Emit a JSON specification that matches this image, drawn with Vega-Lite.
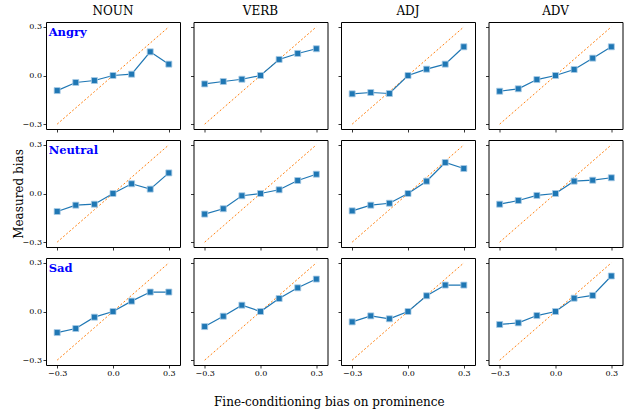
{
"$schema":"https://vega.github.io/schema/vega-lite/v6.json",
"padding":{"left":11,"top":4,"right":5,"bottom":5},
"background":"white",
"datasets":{"d":[
{"e":"Angry","p":"NOUN","x":-0.3,"y":-0.093},{"e":"Angry","p":"NOUN","x":-0.2,"y":-0.043},{"e":"Angry","p":"NOUN","x":-0.1,"y":-0.031},{"e":"Angry","p":"NOUN","x":0,"y":0},{"e":"Angry","p":"NOUN","x":0.1,"y":0.008},{"e":"Angry","p":"NOUN","x":0.2,"y":0.146},{"e":"Angry","p":"NOUN","x":0.3,"y":0.070},
{"e":"Angry","p":"VERB","x":-0.3,"y":-0.052},{"e":"Angry","p":"VERB","x":-0.2,"y":-0.037},{"e":"Angry","p":"VERB","x":-0.1,"y":-0.023},{"e":"Angry","p":"VERB","x":0,"y":0},{"e":"Angry","p":"VERB","x":0.1,"y":0.099},{"e":"Angry","p":"VERB","x":0.2,"y":0.136},{"e":"Angry","p":"VERB","x":0.3,"y":0.165},
{"e":"Angry","p":"ADJ","x":-0.3,"y":-0.113},{"e":"Angry","p":"ADJ","x":-0.2,"y":-0.105},{"e":"Angry","p":"ADJ","x":-0.1,"y":-0.111},{"e":"Angry","p":"ADJ","x":0,"y":0},{"e":"Angry","p":"ADJ","x":0.1,"y":0.039},{"e":"Angry","p":"ADJ","x":0.2,"y":0.070},{"e":"Angry","p":"ADJ","x":0.3,"y":0.177},
{"e":"Angry","p":"ADV","x":-0.3,"y":-0.097},{"e":"Angry","p":"ADV","x":-0.2,"y":-0.082},{"e":"Angry","p":"ADV","x":-0.1,"y":-0.025},{"e":"Angry","p":"ADV","x":0,"y":0},{"e":"Angry","p":"ADV","x":0.1,"y":0.037},{"e":"Angry","p":"ADV","x":0.2,"y":0.107},{"e":"Angry","p":"ADV","x":0.3,"y":0.177},
{"e":"Neutral","p":"NOUN","x":-0.3,"y":-0.111},{"e":"Neutral","p":"NOUN","x":-0.2,"y":-0.072},{"e":"Neutral","p":"NOUN","x":-0.1,"y":-0.066},{"e":"Neutral","p":"NOUN","x":0,"y":0},{"e":"Neutral","p":"NOUN","x":0.1,"y":0.060},{"e":"Neutral","p":"NOUN","x":0.2,"y":0.027},{"e":"Neutral","p":"NOUN","x":0.3,"y":0.127},
{"e":"Neutral","p":"VERB","x":-0.3,"y":-0.127},{"e":"Neutral","p":"VERB","x":-0.2,"y":-0.094},{"e":"Neutral","p":"VERB","x":-0.1,"y":-0.014},{"e":"Neutral","p":"VERB","x":0,"y":0},{"e":"Neutral","p":"VERB","x":0.1,"y":0.023},{"e":"Neutral","p":"VERB","x":0.2,"y":0.080},{"e":"Neutral","p":"VERB","x":0.3,"y":0.119},
{"e":"Neutral","p":"ADJ","x":-0.3,"y":-0.107},{"e":"Neutral","p":"ADJ","x":-0.2,"y":-0.072},{"e":"Neutral","p":"ADJ","x":-0.1,"y":-0.060},{"e":"Neutral","p":"ADJ","x":0,"y":0},{"e":"Neutral","p":"ADJ","x":0.1,"y":0.076},{"e":"Neutral","p":"ADJ","x":0.2,"y":0.191},{"e":"Neutral","p":"ADJ","x":0.3,"y":0.154},
{"e":"Neutral","p":"ADV","x":-0.3,"y":-0.066},{"e":"Neutral","p":"ADV","x":-0.2,"y":-0.043},{"e":"Neutral","p":"ADV","x":-0.1,"y":-0.012},{"e":"Neutral","p":"ADV","x":0,"y":0},{"e":"Neutral","p":"ADV","x":0.1,"y":0.076},{"e":"Neutral","p":"ADV","x":0.2,"y":0.082},{"e":"Neutral","p":"ADV","x":0.3,"y":0.097},
{"e":"Sad","p":"NOUN","x":-0.3,"y":-0.130},{"e":"Sad","p":"NOUN","x":-0.2,"y":-0.105},{"e":"Sad","p":"NOUN","x":-0.1,"y":-0.035},{"e":"Sad","p":"NOUN","x":0,"y":0},{"e":"Sad","p":"NOUN","x":0.1,"y":0.064},{"e":"Sad","p":"NOUN","x":0.2,"y":0.120},{"e":"Sad","p":"NOUN","x":0.3,"y":0.120},
{"e":"Sad","p":"VERB","x":-0.3,"y":-0.093},{"e":"Sad","p":"VERB","x":-0.2,"y":-0.029},{"e":"Sad","p":"VERB","x":-0.1,"y":0.039},{"e":"Sad","p":"VERB","x":0,"y":0},{"e":"Sad","p":"VERB","x":0.1,"y":0.080},{"e":"Sad","p":"VERB","x":0.2,"y":0.146},{"e":"Sad","p":"VERB","x":0.3,"y":0.200},
{"e":"Sad","p":"ADJ","x":-0.3,"y":-0.064},{"e":"Sad","p":"ADJ","x":-0.2,"y":-0.027},{"e":"Sad","p":"ADJ","x":-0.1,"y":-0.045},{"e":"Sad","p":"ADJ","x":0,"y":0},{"e":"Sad","p":"ADJ","x":0.1,"y":0.097},{"e":"Sad","p":"ADJ","x":0.2,"y":0.163},{"e":"Sad","p":"ADJ","x":0.3,"y":0.163},
{"e":"Sad","p":"ADV","x":-0.3,"y":-0.080},{"e":"Sad","p":"ADV","x":-0.2,"y":-0.070},{"e":"Sad","p":"ADV","x":-0.1,"y":-0.025},{"e":"Sad","p":"ADV","x":0,"y":0},{"e":"Sad","p":"ADV","x":0.1,"y":0.082},{"e":"Sad","p":"ADV","x":0.2,"y":0.099},{"e":"Sad","p":"ADV","x":0.3,"y":0.219}
]},
"title":{"text":"Fine-conditioning bias on prominence","orient":"bottom","anchor":"middle","offset":19,"dx":12,"fontSize":12,"font":"DejaVu Serif","fontWeight":"normal","color":"#000"},
"columns":4,
"bounds":"flush",
"spacing":{"row":11,"column":13.5},
"concat":[
{"width":134,"height":107,"title":"NOUN","data":{"name":"d"},"transform":[{"filter":"datum.e=='Angry'&&datum.p=='NOUN'"}],
 "encoding":{"x":{"field":"x","type":"quantitative","title":null,"scale":{"domain":[-0.36,0.36],"nice":false,"zero":false},"axis":{"values":[-0.3,0,0.3],"format":".1f","labels":false}},
  "y":{"field":"y","type":"quantitative","title":null,"scale":{"domain":[-0.33,0.33],"nice":false,"zero":false},"axis":{"values":[-0.3,0,0.3],"format":".1f"}}},
 "layer":[
  {"mark":{"type":"line","color":"#ff7f0e","strokeWidth":1,"strokeDash":[2,2]},"encoding":{"y":{"field":"x","type":"quantitative","title":null}}},
  {"mark":{"type":"line","color":"#1f77b4","strokeWidth":1.2}},
  {"mark":{"type":"point","shape":"square","filled":true,"size":36,"fill":"#1f77b4","stroke":"#a9cce6","strokeWidth":0.8,"opacity":1}},
  {"transform":[{"filter":"datum.x==-0.3"}],"mark":{"type":"text","font":"DejaVu Serif","fontWeight":"bold","fontSize":11.5,"color":"#0000ff","align":"left","baseline":"top","dx":-8.5,"dy":0},"encoding":{"y":{"datum":0.3,"type":"quantitative","title":null},"text":{"field":"e"}}}
 ]},
{"width":134,"height":107,"title":"VERB","data":{"name":"d"},"transform":[{"filter":"datum.e=='Angry'&&datum.p=='VERB'"}],
 "encoding":{"x":{"field":"x","type":"quantitative","title":null,"scale":{"domain":[-0.36,0.36],"nice":false,"zero":false},"axis":{"values":[-0.3,0,0.3],"format":".1f","labels":false}},
  "y":{"field":"y","type":"quantitative","title":null,"scale":{"domain":[-0.33,0.33],"nice":false,"zero":false},"axis":{"values":[-0.3,0,0.3],"format":".1f","labels":false}}},
 "layer":[
  {"mark":{"type":"line","color":"#ff7f0e","strokeWidth":1,"strokeDash":[2,2]},"encoding":{"y":{"field":"x","type":"quantitative","title":null}}},
  {"mark":{"type":"line","color":"#1f77b4","strokeWidth":1.2}},
  {"mark":{"type":"point","shape":"square","filled":true,"size":36,"fill":"#1f77b4","stroke":"#a9cce6","strokeWidth":0.8,"opacity":1}}
 ]},
{"width":134,"height":107,"title":"ADJ","data":{"name":"d"},"transform":[{"filter":"datum.e=='Angry'&&datum.p=='ADJ'"}],
 "encoding":{"x":{"field":"x","type":"quantitative","title":null,"scale":{"domain":[-0.36,0.36],"nice":false,"zero":false},"axis":{"values":[-0.3,0,0.3],"format":".1f","labels":false}},
  "y":{"field":"y","type":"quantitative","title":null,"scale":{"domain":[-0.33,0.33],"nice":false,"zero":false},"axis":{"values":[-0.3,0,0.3],"format":".1f","labels":false}}},
 "layer":[
  {"mark":{"type":"line","color":"#ff7f0e","strokeWidth":1,"strokeDash":[2,2]},"encoding":{"y":{"field":"x","type":"quantitative","title":null}}},
  {"mark":{"type":"line","color":"#1f77b4","strokeWidth":1.2}},
  {"mark":{"type":"point","shape":"square","filled":true,"size":36,"fill":"#1f77b4","stroke":"#a9cce6","strokeWidth":0.8,"opacity":1}}
 ]},
{"width":134,"height":107,"title":"ADV","data":{"name":"d"},"transform":[{"filter":"datum.e=='Angry'&&datum.p=='ADV'"}],
 "encoding":{"x":{"field":"x","type":"quantitative","title":null,"scale":{"domain":[-0.36,0.36],"nice":false,"zero":false},"axis":{"values":[-0.3,0,0.3],"format":".1f","labels":false}},
  "y":{"field":"y","type":"quantitative","title":null,"scale":{"domain":[-0.33,0.33],"nice":false,"zero":false},"axis":{"values":[-0.3,0,0.3],"format":".1f","labels":false}}},
 "layer":[
  {"mark":{"type":"line","color":"#ff7f0e","strokeWidth":1,"strokeDash":[2,2]},"encoding":{"y":{"field":"x","type":"quantitative","title":null}}},
  {"mark":{"type":"line","color":"#1f77b4","strokeWidth":1.2}},
  {"mark":{"type":"point","shape":"square","filled":true,"size":36,"fill":"#1f77b4","stroke":"#a9cce6","strokeWidth":0.8,"opacity":1}}
 ]},
{"width":134,"height":107,"data":{"name":"d"},"transform":[{"filter":"datum.e=='Neutral'&&datum.p=='NOUN'"}],
 "encoding":{"x":{"field":"x","type":"quantitative","title":null,"scale":{"domain":[-0.36,0.36],"nice":false,"zero":false},"axis":{"values":[-0.3,0,0.3],"format":".1f","labels":false}},
  "y":{"field":"y","type":"quantitative","title":"Measured bias","scale":{"domain":[-0.33,0.33],"nice":false,"zero":false},"axis":{"values":[-0.3,0,0.3],"format":".1f","titlePadding":-3}}},
 "layer":[
  {"mark":{"type":"line","color":"#ff7f0e","strokeWidth":1,"strokeDash":[2,2]},"encoding":{"y":{"field":"x","type":"quantitative","title":"Measured bias"}}},
  {"mark":{"type":"line","color":"#1f77b4","strokeWidth":1.2}},
  {"mark":{"type":"point","shape":"square","filled":true,"size":36,"fill":"#1f77b4","stroke":"#a9cce6","strokeWidth":0.8,"opacity":1}},
  {"transform":[{"filter":"datum.x==-0.3"}],"mark":{"type":"text","font":"DejaVu Serif","fontWeight":"bold","fontSize":11.5,"color":"#0000ff","align":"left","baseline":"top","dx":-8.5,"dy":0},"encoding":{"y":{"datum":0.3,"type":"quantitative","title":"Measured bias"},"text":{"field":"e"}}}
 ]},
{"width":134,"height":107,"data":{"name":"d"},"transform":[{"filter":"datum.e=='Neutral'&&datum.p=='VERB'"}],
 "encoding":{"x":{"field":"x","type":"quantitative","title":null,"scale":{"domain":[-0.36,0.36],"nice":false,"zero":false},"axis":{"values":[-0.3,0,0.3],"format":".1f","labels":false}},
  "y":{"field":"y","type":"quantitative","title":null,"scale":{"domain":[-0.33,0.33],"nice":false,"zero":false},"axis":{"values":[-0.3,0,0.3],"format":".1f","labels":false}}},
 "layer":[
  {"mark":{"type":"line","color":"#ff7f0e","strokeWidth":1,"strokeDash":[2,2]},"encoding":{"y":{"field":"x","type":"quantitative","title":null}}},
  {"mark":{"type":"line","color":"#1f77b4","strokeWidth":1.2}},
  {"mark":{"type":"point","shape":"square","filled":true,"size":36,"fill":"#1f77b4","stroke":"#a9cce6","strokeWidth":0.8,"opacity":1}}
 ]},
{"width":134,"height":107,"data":{"name":"d"},"transform":[{"filter":"datum.e=='Neutral'&&datum.p=='ADJ'"}],
 "encoding":{"x":{"field":"x","type":"quantitative","title":null,"scale":{"domain":[-0.36,0.36],"nice":false,"zero":false},"axis":{"values":[-0.3,0,0.3],"format":".1f","labels":false}},
  "y":{"field":"y","type":"quantitative","title":null,"scale":{"domain":[-0.33,0.33],"nice":false,"zero":false},"axis":{"values":[-0.3,0,0.3],"format":".1f","labels":false}}},
 "layer":[
  {"mark":{"type":"line","color":"#ff7f0e","strokeWidth":1,"strokeDash":[2,2]},"encoding":{"y":{"field":"x","type":"quantitative","title":null}}},
  {"mark":{"type":"line","color":"#1f77b4","strokeWidth":1.2}},
  {"mark":{"type":"point","shape":"square","filled":true,"size":36,"fill":"#1f77b4","stroke":"#a9cce6","strokeWidth":0.8,"opacity":1}}
 ]},
{"width":134,"height":107,"data":{"name":"d"},"transform":[{"filter":"datum.e=='Neutral'&&datum.p=='ADV'"}],
 "encoding":{"x":{"field":"x","type":"quantitative","title":null,"scale":{"domain":[-0.36,0.36],"nice":false,"zero":false},"axis":{"values":[-0.3,0,0.3],"format":".1f","labels":false}},
  "y":{"field":"y","type":"quantitative","title":null,"scale":{"domain":[-0.33,0.33],"nice":false,"zero":false},"axis":{"values":[-0.3,0,0.3],"format":".1f","labels":false}}},
 "layer":[
  {"mark":{"type":"line","color":"#ff7f0e","strokeWidth":1,"strokeDash":[2,2]},"encoding":{"y":{"field":"x","type":"quantitative","title":null}}},
  {"mark":{"type":"line","color":"#1f77b4","strokeWidth":1.2}},
  {"mark":{"type":"point","shape":"square","filled":true,"size":36,"fill":"#1f77b4","stroke":"#a9cce6","strokeWidth":0.8,"opacity":1}}
 ]},
{"width":134,"height":107,"data":{"name":"d"},"transform":[{"filter":"datum.e=='Sad'&&datum.p=='NOUN'"}],
 "encoding":{"x":{"field":"x","type":"quantitative","title":null,"scale":{"domain":[-0.36,0.36],"nice":false,"zero":false},"axis":{"values":[-0.3,0,0.3],"format":".1f"}},
  "y":{"field":"y","type":"quantitative","title":null,"scale":{"domain":[-0.33,0.33],"nice":false,"zero":false},"axis":{"values":[-0.3,0,0.3],"format":".1f"}}},
 "layer":[
  {"mark":{"type":"line","color":"#ff7f0e","strokeWidth":1,"strokeDash":[2,2]},"encoding":{"y":{"field":"x","type":"quantitative","title":null}}},
  {"mark":{"type":"line","color":"#1f77b4","strokeWidth":1.2}},
  {"mark":{"type":"point","shape":"square","filled":true,"size":36,"fill":"#1f77b4","stroke":"#a9cce6","strokeWidth":0.8,"opacity":1}},
  {"transform":[{"filter":"datum.x==-0.3"}],"mark":{"type":"text","font":"DejaVu Serif","fontWeight":"bold","fontSize":11.5,"color":"#0000ff","align":"left","baseline":"top","dx":-8.5,"dy":0},"encoding":{"y":{"datum":0.3,"type":"quantitative","title":null},"text":{"field":"e"}}}
 ]},
{"width":134,"height":107,"data":{"name":"d"},"transform":[{"filter":"datum.e=='Sad'&&datum.p=='VERB'"}],
 "encoding":{"x":{"field":"x","type":"quantitative","title":null,"scale":{"domain":[-0.36,0.36],"nice":false,"zero":false},"axis":{"values":[-0.3,0,0.3],"format":".1f"}},
  "y":{"field":"y","type":"quantitative","title":null,"scale":{"domain":[-0.33,0.33],"nice":false,"zero":false},"axis":{"values":[-0.3,0,0.3],"format":".1f","labels":false}}},
 "layer":[
  {"mark":{"type":"line","color":"#ff7f0e","strokeWidth":1,"strokeDash":[2,2]},"encoding":{"y":{"field":"x","type":"quantitative","title":null}}},
  {"mark":{"type":"line","color":"#1f77b4","strokeWidth":1.2}},
  {"mark":{"type":"point","shape":"square","filled":true,"size":36,"fill":"#1f77b4","stroke":"#a9cce6","strokeWidth":0.8,"opacity":1}}
 ]},
{"width":134,"height":107,"data":{"name":"d"},"transform":[{"filter":"datum.e=='Sad'&&datum.p=='ADJ'"}],
 "encoding":{"x":{"field":"x","type":"quantitative","title":null,"scale":{"domain":[-0.36,0.36],"nice":false,"zero":false},"axis":{"values":[-0.3,0,0.3],"format":".1f"}},
  "y":{"field":"y","type":"quantitative","title":null,"scale":{"domain":[-0.33,0.33],"nice":false,"zero":false},"axis":{"values":[-0.3,0,0.3],"format":".1f","labels":false}}},
 "layer":[
  {"mark":{"type":"line","color":"#ff7f0e","strokeWidth":1,"strokeDash":[2,2]},"encoding":{"y":{"field":"x","type":"quantitative","title":null}}},
  {"mark":{"type":"line","color":"#1f77b4","strokeWidth":1.2}},
  {"mark":{"type":"point","shape":"square","filled":true,"size":36,"fill":"#1f77b4","stroke":"#a9cce6","strokeWidth":0.8,"opacity":1}}
 ]},
{"width":134,"height":107,"data":{"name":"d"},"transform":[{"filter":"datum.e=='Sad'&&datum.p=='ADV'"}],
 "encoding":{"x":{"field":"x","type":"quantitative","title":null,"scale":{"domain":[-0.36,0.36],"nice":false,"zero":false},"axis":{"values":[-0.3,0,0.3],"format":".1f"}},
  "y":{"field":"y","type":"quantitative","title":null,"scale":{"domain":[-0.33,0.33],"nice":false,"zero":false},"axis":{"values":[-0.3,0,0.3],"format":".1f","labels":false}}},
 "layer":[
  {"mark":{"type":"line","color":"#ff7f0e","strokeWidth":1,"strokeDash":[2,2]},"encoding":{"y":{"field":"x","type":"quantitative","title":null}}},
  {"mark":{"type":"line","color":"#1f77b4","strokeWidth":1.2}},
  {"mark":{"type":"point","shape":"square","filled":true,"size":36,"fill":"#1f77b4","stroke":"#a9cce6","strokeWidth":0.8,"opacity":1}}
 ]}
],
"config":{
 "font":"DejaVu Serif",
 "view":{"stroke":"#000","strokeWidth":1},
 "axis":{"domain":false,"grid":false,"ticks":true,"tickSize":3,"tickColor":"#000","tickWidth":0.8,"labelFont":"DejaVu Serif","labelFontSize":8,"labelColor":"#000","labelPadding":1.5,"titleFont":"DejaVu Serif","titleFontSize":12,"titleFontWeight":"normal","titleColor":"#000","titlePadding":1},
 "title":{"font":"DejaVu Serif","fontSize":12,"fontWeight":"normal","color":"#000","offset":4}
}
}
